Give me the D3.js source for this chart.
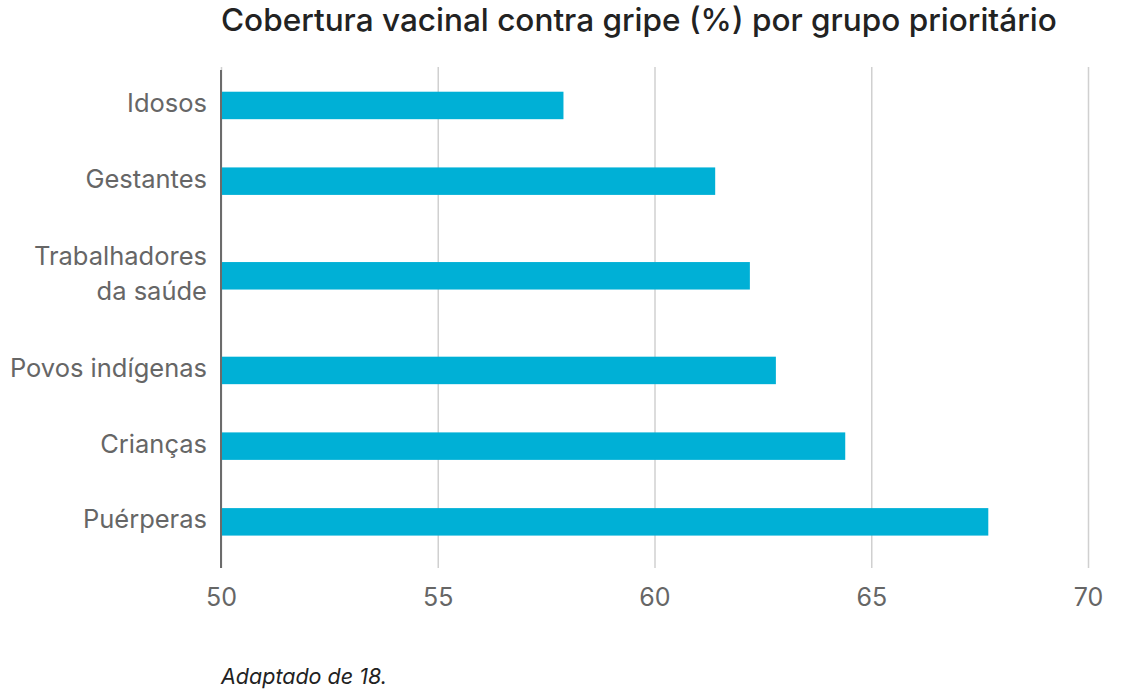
<!DOCTYPE html>
<html>
<head>
<meta charset="utf-8">
<script src="https://cdn.jsdelivr.net/npm/d3@7"></script>
<style>
  body { margin: 0; background: #fff; }
  text { font-family: Inter, "Noto Sans", sans-serif; }
</style>
</head>
<body>
<script>
// data
const groups = ['Idosos', 'Gestantes', 'Trabalhadores\nda saúde', 'Povos indígenas', 'Crianças', 'Puérperas'];
const coverage = [57.9, 61.4, 62.2, 62.8, 64.4, 67.7];
const xTicks = [50, 55, 60, 65, 70];
const titleText = 'Cobertura vacinal contra gripe (%) por grupo prioritário';
const noteText = 'Adaptado de 18.';

const W = 1124, H = 690;
const M = { left: 221, right: 36, top: 67.6, bottom: 130.3 };
const innerW = W - M.left - M.right;

const svg = d3.select('body').append('svg')
    .attr('width', W)
    .attr('height', H);

// slots: two-line labels get a taller slot
const weights = groups.map(g => 1 + 0.5 * (g.split('\n').length - 1));
const offsets = [];
let acc = 0;
weights.forEach(w => { offsets.push(acc + w / 2); acc += w; });

const x = d3.scaleLinear().domain([50, 70]).range([M.left, M.left + innerW]);
const y = d3.scaleLinear().domain([0, acc]).range([M.top, H - M.bottom]);
const unit = y(1) - y(0);
const barH = unit * 0.363;

// gridlines
svg.append('g')
    .attr('transform', `translate(0,${568})`)
    .call(d3.axisBottom(x).tickValues(xTicks).tickSize(-(568 - 67)).tickFormat(''))
    .call(g => g.select('.domain').remove())
    .call(g => g.selectAll('line').attr('stroke', '#d0d0d0').attr('stroke-width', 1.5));

// bars
svg.selectAll('rect.bar')
    .data(coverage)
    .enter().append('rect')
    .attr('class', 'bar')
    .attr('x', x(50))
    .attr('y', (d, i) => y(offsets[i]) - barH / 2)
    .attr('width', d => x(d) - x(50))
    .attr('height', barH)
    .attr('fill', '#00b0d6');

// baseline at 50
svg.append('line')
    .attr('x1', x(50)).attr('x2', x(50))
    .attr('y1', 70).attr('y2', 568)
    .attr('stroke', '#6b6b6b')
    .attr('stroke-width', 2);

// x tick labels
svg.append('g')
    .attr('transform', `translate(0,${606})`)
    .call(d3.axisBottom(x).tickValues(xTicks).tickSize(0).tickPadding(0))
    .call(g => g.select('.domain').remove())
    .call(g => g.selectAll('text')
        .attr('dy', 0)
        .attr('fill', '#666')
        .style('font-size', '25px')
        .style('font-family', 'Inter, sans-serif'));

// category labels
const labels = svg.append('g').selectAll('text')
    .data(groups)
    .enter().append('text')
    .attr('text-anchor', 'end')
    .attr('fill', '#666')
    .style('font-size', '25.5px')
    .attr('x', 207)
    .attr('y', (d, i) => y(offsets[i]));

labels.each(function(d) {
    const lines = d.split('\n');
    const t = d3.select(this);
    lines.forEach((ln, k) => {
        t.append('tspan')
            .attr('x', 207)
            .attr('dy', k === 0 ? (0.25 - (lines.length - 1) * 0.685) + 'em' : '1.37em')
            .text(ln);
    });
});

// title
const title = svg.append('text')
    .attr('x', M.left)
    .attr('y', 31)
    .attr('fill', '#222')
    .style('font-size', '28px')
    .style('font-weight', 500)
    .text(titleText);
const tw = title.node().getComputedTextLength();
title.style('font-size', (28 * 836 / tw).toFixed(2) + 'px');

// source note
svg.append('text')
    .attr('x', M.left)
    .attr('y', 684)
    .attr('fill', '#222')
    .style('font-size', '21.5px')
    .style('font-style', 'italic')
    .text(noteText);
</script>
</body>
</html>
